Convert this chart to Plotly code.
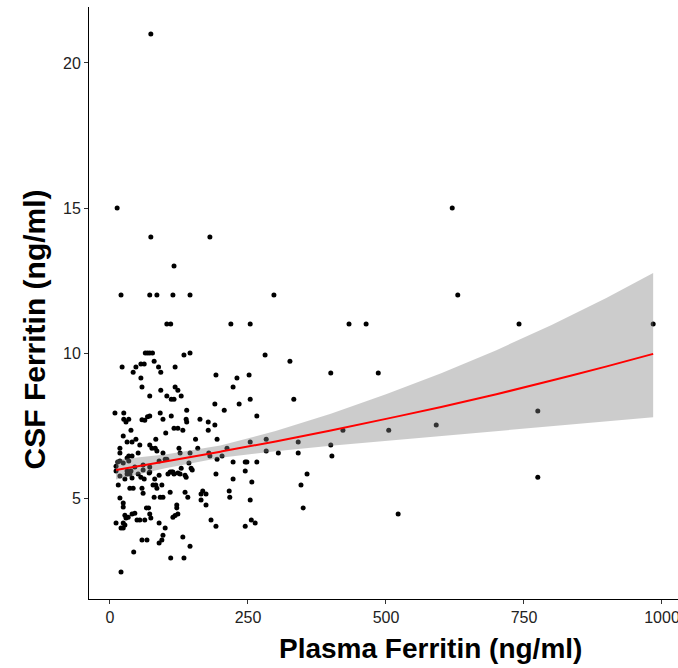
import plotly.graph_objects as go

# Scatter data: Plasma ferritin (x) vs CSF ferritin (y)
plasma = [
    74, 13, 74, 181, 116, 20, 72, 85, 114, 145, 297, 103, 110, 219, 254, 433, 464, 741, 984, 620, 630,
    64, 68, 72, 77, 145, 134, 281, 22, 326, 400, 486, 775, 775, 333, 341, 305, 341, 357, 346, 350,
    400, 402, 422, 505, 591, 522,
    192, 230, 252, 223, 254, 190, 234, 207, 266, 163, 178, 190, 178, 155, 194, 254, 283, 159, 212,
    283, 179, 181, 203, 194, 223, 245, 248, 266, 245, 192, 223, 257, 168, 165, 174, 216, 217, 165,
    254, 174, 183, 256, 263, 192, 245,
    47, 56, 62, 80, 88, 118, 42, 92, 56, 58, 92, 118, 123, 72, 103, 111, 116, 129, 139, 9, 25, 25,
    34, 29, 58, 63, 72, 68, 91, 96, 111, 138, 139, 38, 116, 123, 132, 24, 31, 40, 47, 83, 101, 18,
    54, 72, 76, 82, 85, 125, 18, 34, 51, 96, 145,
    14, 18, 11, 24, 34, 31, 40, 31, 38, 45, 60, 60, 72, 71, 89, 100, 103, 127, 129, 114, 109, 123,
    143, 147, 149, 136, 11,
    18, 31, 36, 27, 40, 51, 56, 62, 72, 81, 89, 105, 112, 116, 127, 138, 15, 36, 42, 58, 78, 83,
    94, 85, 60, 80, 91, 96, 109, 136, 141, 18, 24, 24, 66, 70, 121, 121, 40, 45, 33, 27, 72, 118,
    123, 114, 49, 54, 63, 74, 29, 11, 24, 27, 20, 24, 89, 100, 96, 58, 67, 94, 89, 132, 145, 43,
    110, 134, 20,
]
csf = [
    21.0, 15.0, 14.0, 14.0, 13.0, 12.0, 12.0, 12.0, 12.0, 12.0, 12.0, 11.0, 11.0, 11.0, 11.0, 11.0,
    11.0, 11.0, 11.0, 15.0, 12.0,
    10.0, 10.0, 10.0, 10.0, 10.0, 9.93, 9.93, 9.52, 9.72, 9.31, 9.31, 8.0, 5.72, 8.41, 6.93, 6.55,
    6.55, 5.83, 5.45, 4.66, 6.83, 6.45, 7.34, 7.34, 7.52, 4.45,
    9.24, 9.14, 9.24, 8.83, 8.41, 8.24, 8.24, 8.03, 7.83, 7.72, 7.62, 7.52, 7.34, 7.03, 7.03, 6.93,
    7.03, 6.72, 6.72, 6.62, 6.55, 6.45, 6.45, 6.34, 6.24, 6.24, 6.24, 6.24, 5.93, 5.83, 5.66, 5.55,
    5.24, 5.14, 5.14, 5.24, 5.03, 4.93, 4.93, 4.76, 4.24, 4.24, 4.14, 4.03, 4.03,
    9.52, 9.62, 9.62, 9.72, 9.52, 9.52, 9.34, 9.34, 9.14, 8.83, 8.72, 8.83, 8.72, 8.52, 8.52, 8.41,
    8.41, 8.52, 8.03, 7.93, 7.93, 7.72, 7.72, 7.62, 7.70, 7.68, 7.83, 7.80, 7.93, 7.72, 7.83, 7.72,
    7.62, 7.34, 7.41, 7.41, 7.34, 7.14, 6.93, 6.93, 7.03, 7.03, 7.24, 6.72, 6.83, 6.83, 6.72, 6.72,
    6.62, 6.72, 6.55, 6.45, 6.55, 6.55, 6.55,
    6.24, 6.28, 6.10, 6.21, 6.28, 6.38, 6.45, 5.93, 5.93, 6.07, 6.14, 5.97, 6.07, 5.86, 6.28, 6.34,
    6.34, 6.55, 6.03, 5.90, 5.90, 5.86, 6.21, 6.03, 5.97, 5.79, 5.93,
    5.76, 5.83, 5.83, 5.66, 5.69, 5.83, 5.72, 5.66, 5.90, 5.66, 5.79, 5.83, 5.90, 5.83, 5.83, 5.72,
    5.45, 5.34, 5.34, 5.34, 5.45, 5.45, 5.45, 5.34, 5.17, 5.03, 5.03, 5.03, 5.20, 5.20, 5.03, 5.00,
    4.83, 4.69, 4.66, 4.66, 4.76, 4.66, 4.45, 4.48, 4.34, 4.41, 4.45, 4.40, 4.45, 4.34, 4.24, 4.24,
    4.24, 4.31, 4.31, 4.14, 4.14, 4.07, 3.97, 3.97, 4.14, 3.97, 3.72, 3.55, 3.55, 3.55, 3.45, 3.66,
    3.34, 3.14, 2.93, 2.93, 2.45,
]

# Fitted curve and 95% confidence band
fit_x = [11, 100, 200, 300, 400, 500, 600, 700, 800, 900, 984]
fit_y = [5.97, 6.26, 6.60, 6.95, 7.33, 7.73, 8.14, 8.58, 9.05, 9.54, 9.97]
fit_lo = [5.64, 6.03, 6.39, 6.61, 6.80, 6.97, 7.13, 7.29, 7.47, 7.64, 7.79]
fit_hi = [6.32, 6.50, 6.81, 7.31, 7.91, 8.58, 9.30, 10.10, 10.97, 11.91, 12.76]

x_ticks = [0, 250, 500, 750, 1000]
y_ticks = [5, 10, 15, 20]

FONT = "Liberation Sans, Arial, Helvetica, sans-serif"

fig = go.Figure()
fig.add_trace(go.Scatter(x=plasma, y=csf, mode="markers",
                         marker=dict(color="black", size=5, line=dict(width=0)),
                         hoverinfo="skip", showlegend=False))
fig.add_trace(go.Scatter(x=fit_x, y=fit_lo, mode="lines", line=dict(width=0),
                         showlegend=False, hoverinfo="skip"))
fig.add_trace(go.Scatter(x=fit_x, y=fit_hi, mode="lines", line=dict(width=0),
                         fill="tonexty", fillcolor="rgba(128,128,128,0.4)",
                         showlegend=False, hoverinfo="skip"))
fig.add_trace(go.Scatter(x=fit_x, y=fit_y, mode="lines",
                         line=dict(color="#ff0000", width=2, shape="spline"),
                         showlegend=False, hoverinfo="skip"))

fig.update_layout(
    width=678, height=668,
    margin=dict(l=89, r=0, t=7, b=69, autoexpand=False),
    paper_bgcolor="white", plot_bgcolor="white",
    font=dict(family=FONT, color="#222222"),
    xaxis=dict(range=[-38, 1029], tickvals=x_ticks, ticktext=[str(v) for v in x_ticks],
               showgrid=False, zeroline=False, showline=True, linecolor="black", linewidth=1,
               ticks="outside", ticklen=4, tickcolor="#333333", ticklabeloverflow="allow",
               tickfont=dict(size=16, color="#222222")),
    yaxis=dict(range=[1.52, 21.93], tickvals=y_ticks, ticktext=[str(v) for v in y_ticks],
               showgrid=False, zeroline=False, showline=True, linecolor="black", linewidth=1,
               ticks="outside", ticklen=4, tickcolor="#333333",
               tickfont=dict(size=16, color="#222222")),
    annotations=[
        dict(text="<b>Plasma Ferritin (ng/ml)</b>", xref="paper", yref="paper",
             x=0.579, y=-0.083, xanchor="center", yanchor="middle", showarrow=False,
             font=dict(size=28, color="black", family=FONT)),
        dict(text="<b>CSF Ferritin (ng/ml)</b>", xref="paper", yref="paper",
             x=-0.092, y=0.455, xanchor="center", yanchor="middle", showarrow=False,
             textangle=-90, font=dict(size=30, color="black", family=FONT)),
    ],
)

fig.write_html("out.html",
               config={"displayModeBar": False},
               post_script="document.body.style.margin='0';document.body.style.overflow='hidden';")
